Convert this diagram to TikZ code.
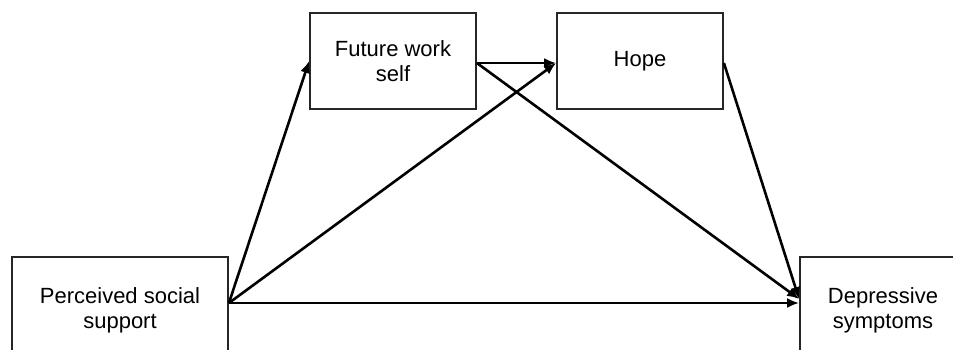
\documentclass[tikz,border=0pt]{standalone}
\usepackage{fontspec}
\setmainfont{Liberation Sans}
\usetikzlibrary{arrows.meta}
\begin{document}
\begin{tikzpicture}[x=1pt,y=-1pt,
  box/.style={draw=black!85,line width=1.8pt,rectangle,align=center,inner sep=0pt,
    font=\fontsize{22}{25}\selectfont},
  conn/.style={line width=2.6pt,-{Latex[length=12pt,width=10pt]}}]
\useasboundingbox (0,0) rectangle (953,350);
\begin{scope}
\clip (0,0) rectangle (953,350);
\node[box,minimum width=216pt,minimum height=106pt] (pss) at (120,310) {Perceived social\\support};
\node[box,minimum width=166pt,minimum height=106pt] (dep) at (883,310) {Depressive\\symptoms};
\end{scope}
\node[box,minimum width=166pt,minimum height=96pt] (fws) at (393,61) {Future work\\self};
\node[box,minimum width=166pt,minimum height=96pt] (hope) at (640,61) {Hope};
\coordinate (src) at ([yshift=7pt]pss.east);
\coordinate (tgt) at ([yshift=11pt]dep.west);
\coordinate (tgth) at ([yshift=7pt]dep.west);
\draw[conn] (src) -- (fws.west);
\draw[conn] (src) -- ([yshift=-2pt]hope.west);
\draw[conn] (src) -- (tgth);
\draw[conn] ([yshift=-2pt]fws.east) -- ([yshift=-2pt]hope.west);
\draw[conn] ([yshift=-2pt]fws.east) -- (tgt);
\draw[conn] ([yshift=-2pt]hope.east) -- (tgt);
\end{tikzpicture}
\end{document}
